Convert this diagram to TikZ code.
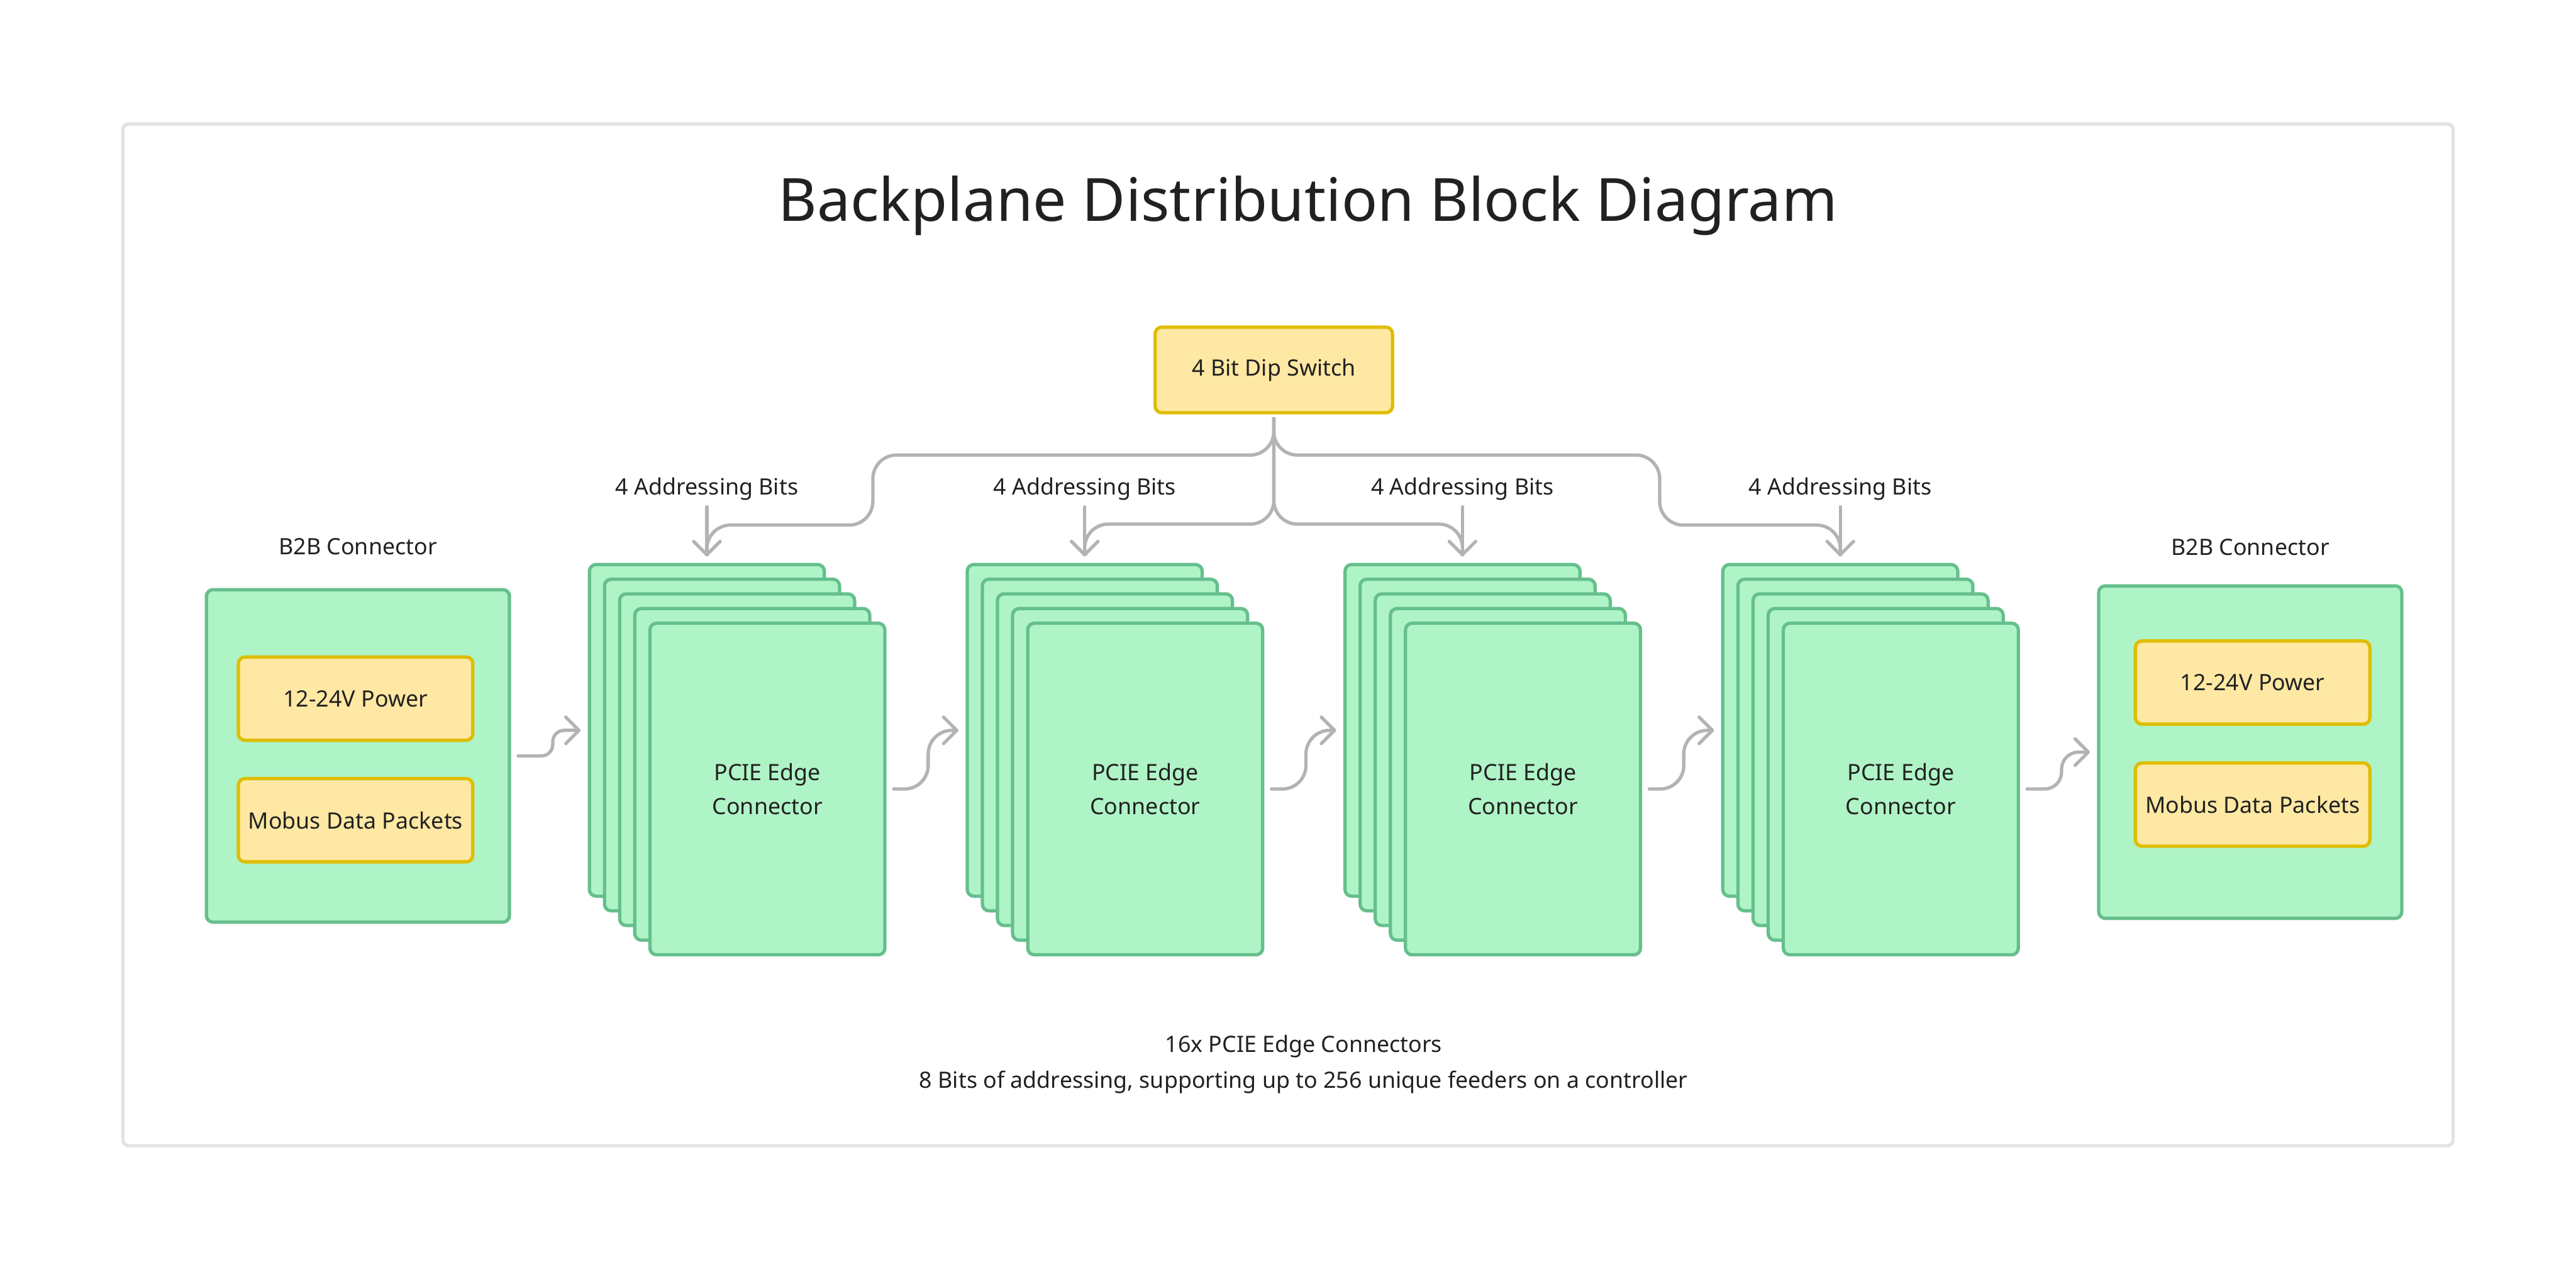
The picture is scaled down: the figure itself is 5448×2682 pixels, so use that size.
\documentclass[tikz,border=0pt]{standalone}
\usepackage{fontspec}
\setmainfont{Noto Sans}
\usetikzlibrary{arrows.meta,positioning,calc}
\definecolor{cardfill}{HTML}{AFF4C6}
\definecolor{cardline}{HTML}{66BF8C}
\definecolor{sigfill}{HTML}{FEE8A3}
\definecolor{sigline}{HTML}{DFBD00}
\definecolor{wiregray}{HTML}{B3B3B3}
\definecolor{framegray}{HTML}{E3E3E3}
\definecolor{inkdark}{HTML}{212121}
\newcommand{\boxfont}{\fontsize{11.9pt}{17.75pt}\selectfont}

\begin{document}
\begin{tikzpicture}[
    x=0.25pt, y=-0.25pt,
    card/.style={rectangle, draw=cardline, fill=cardfill, line width=1.75pt,
        rounded corners=3.5pt, minimum width=124.25pt, minimum height=175.25pt, inner sep=0pt},
    b2bbox/.style={card, minimum width=160.25pt, minimum height=175.75pt},
    sigbox/.style={rectangle, draw=sigline, fill=sigfill, line width=1.75pt,
        rounded corners=3.5pt, minimum width=124pt, minimum height=44pt, inner sep=2pt,
        font=\boxfont, text=inkdark},
    caption/.style={font=\boxfont, text=inkdark, align=center},
    wire/.style={draw=wiregray, line width=1.75pt, rounded corners=12.5pt},
    flow/.style={wire, line cap=round, -{Straight Barb[length=7pt,width=14pt,round]}}
]
\useasboundingbox (0,0) rectangle (5448,2682);
\draw[framegray, line width=1.75pt, rounded corners=3pt] (260,262) rectangle (5188,2422);
\node[anchor=base, font=\fontsize{31.5pt}{38pt}\selectfont, text=inkdark] (title) at (2766,467)
    {Backplane Distribution Block Diagram};

% B2B connectors
\node[b2bbox, label={[caption, label distance=14pt]above:B2B Connector}] (b2bL) at (757,1598) {};
\node[sigbox] (pwrL) at (752,1477) {12-24V Power};
\node[sigbox] (dataL) at (752,1734) {Mobus Data Packets};
\node[b2bbox, label={[caption, label distance=11.75pt]above:B2B Connector}] (b2bR) at (4759,1590) {};
\node[sigbox] (pwrR) at (4764,1443) {12-24V Power};
\node[sigbox] (dataR) at (4764,1701) {Mobus Data Packets};

% dip switch
\node[sigbox, minimum width=125.5pt, minimum height=45.25pt] (dip) at (2694,782) {4 Bit Dip Switch};

% stacks of edge cards
\foreach \k/\xs in {1/1495,2/2294,3/3093,4/3892}{
  \foreach \j in {0,...,4}
    \node[card] (card\k\j) at (\xs+32*\j,1544+31*\j) {};
  \node[caption] (pcie\k) at (card\k4) {PCIE Edge\\Connector};
  \node[caption, anchor=base] (addr\k) at (\xs,1046) {4 Addressing Bits};
  \draw[flow] (addr\k.south) -- ($(card\k0.north)+(0,-14)$);
}

% address bus
\draw[wire] ([yshift=-1.5pt]dip.south) -- ++(0,80) -| (1846,1110) -| ($(card10.north)+(0,-14)$);
\draw[wire] ([yshift=-1.5pt]dip.south) -- ++(0,226) -| ($(card20.north)+(0,-14)$);
\draw[wire] ([yshift=-1.5pt]dip.south) -- ++(0,226) -| ($(card30.north)+(0,-14)$);
\draw[wire] ([yshift=-1.5pt]dip.south) -- ++(0,80) -| (3510,1110) -| ($(card40.north)+(0,-14)$);

% power and data chain
\draw[flow, rounded corners=6pt] ($(b2bL.east)+(15,0)$) -- ++(73,0) |- ($(card10.west)+(-15,0)$);
\foreach \a/\b in {1/2,2/3,3/4}
  \draw[flow] ($(card\a4.east)+(15,0)$) -- ++(73,0) |- ($(card\b0.west)+(-15,0)$);
\draw[flow, rounded corners=9pt] ($(card44.east)+(15,0)$) -- ++(73,0) |- ($(b2bR.west)+(-15,0)$);

\node[caption, font=\fontsize{11.9pt}{18.75pt}\selectfont] (note) at (2757,2250)
    {16x PCIE Edge Connectors\\8 Bits of addressing, supporting up to 256 unique feeders on a controller};
\end{tikzpicture}
\end{document}
